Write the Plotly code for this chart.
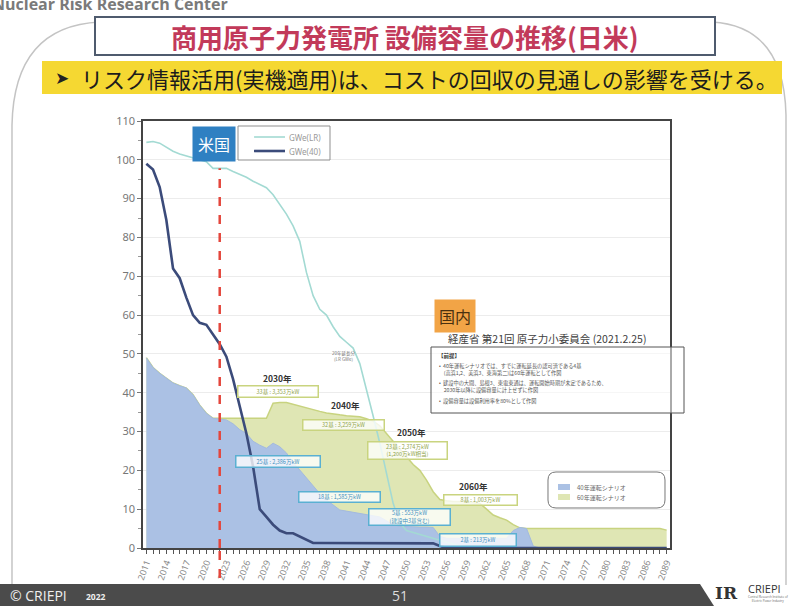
import plotly.graph_objects as go

# ---------------- data ----------------
# United States (GWe)
us_lr_years = [2011, 2012, 2013, 2014, 2015, 2016, 2017, 2018, 2019, 2020, 2021, 2022, 2023, 2024,
               2025, 2026, 2027, 2028, 2029, 2030, 2031, 2032, 2033, 2034, 2035, 2036, 2037, 2038,
               2039, 2040, 2041, 2042, 2043, 2044, 2045, 2046, 2047, 2048, 2049, 2050, 2051, 2052,
               2053, 2054, 2055, 2056, 2057, 2058, 2059, 2089]
us_lr_values = [104.5, 104.7, 104.3, 103.3, 102.2, 101.5, 101.0, 100.6, 100.2, 99.5, 97.8, 97.8, 97.8, 97.0,
                96.3, 95.5, 94.5, 93.6, 92.8, 91.0, 88.5, 86.0, 83.0, 79.0, 71.0, 65.0, 61.5, 60.0,
                57.0, 54.5, 53.0, 51.5, 47.5, 41.0, 34.0, 27.0, 19.0, 11.5, 6.5, 4.5, 4.0, 3.5,
                3.0, 2.5, 2.0, 1.5, 1.0, 0.5, 0.0, 0.0]

us_40_years = [2011, 2012, 2013, 2014, 2015, 2016, 2017, 2018, 2019, 2020, 2021, 2022, 2023, 2024,
               2025, 2026, 2027, 2028, 2029, 2030, 2031, 2032, 2033, 2034, 2035, 2036, 2037, 2045,
               2054, 2055, 2056, 2089]
us_40_values = [99.0, 97.5, 93.0, 84.5, 72.0, 69.5, 64.5, 60.0, 58.0, 57.5, 55.0, 52.5, 49.3, 43.5,
                36.5, 29.5, 21.0, 10.0, 8.0, 6.0, 4.5, 3.8, 3.8, 3.0, 2.0, 1.3, 1.3, 1.3,
                1.2, 0.5, 0.0, 0.0]

# Japan (GWe), one value per year 2011..2089
jp_years = list(range(2011, 2090))
jp_40yr = [49.0, 46.5, 45.0, 43.7, 42.5, 41.8, 41.2, 39.5, 36.8, 34.7,
           33.4, 33.2, 33.0, 32.0, 30.5, 29.5, 27.5, 26.5, 25.7, 27.0,
           26.1, 24.5, 22.0, 20.1, 18.0, 15.8, 14.0, 12.4, 11.0, 9.8,
           9.5, 9.2, 8.9, 8.6, 8.3, 8.0, 7.0, 6.0, 5.6, 5.5,
           5.5, 5.4, 5.4, 5.3, 3.0, 2.5, 2.5, 2.5, 2.5, 2.5,
           2.5, 2.5, 2.5, 2.5, 2.5, 4.5, 5.3, 5.0, 0.5, 0.0,
           0.0, 0.0, 0.0, 0.0, 0.0, 0.0, 0.0, 0.0, 0.0, 0.0,
           0.0, 0.0, 0.0, 0.0, 0.0, 0.0, 0.0, 0.0, 0.0]
jp_60yr = [49.0, 46.5, 45.0, 43.7, 42.5, 41.8, 41.2, 39.5, 36.8, 34.7,
           33.4, 33.4, 33.4, 33.4, 33.4, 33.4, 33.4, 33.4, 33.4, 37.3,
           37.5, 37.5, 37.0, 36.5, 36.0, 35.6, 35.2, 34.8, 34.5, 34.3,
           34.1, 34.0, 33.8, 33.3, 32.7, 31.5, 29.5, 27.5, 25.5, 23.5,
           21.5, 20.0, 17.5, 14.5, 12.5, 12.2, 12.0, 12.0, 12.0, 11.8,
           11.5, 10.0, 8.5, 7.8, 7.2, 6.0, 5.2, 5.0, 5.0, 5.0,
           5.0, 5.0, 5.0, 5.0, 5.0, 5.0, 5.0, 5.0, 5.0, 5.0,
           5.0, 5.0, 5.0, 5.0, 5.0, 5.0, 5.0, 5.0, 4.6]

us_reference_year = 2022
tick_years = list(range(2011, 2090))
tick_labels = [str(y) if (y - 2011) % 3 == 0 else "" for y in tick_years]
y_ticks = [0, 10, 20, 30, 40, 50, 60, 70, 80, 90, 100, 110]

# ---------------- geometry helpers ----------------
W, H = 790, 606
L, R, T, B = 143, 120, 121, 58
PW = W - L - R
PH = H - T - B
JP = "Noto Sans CJK JP"

C_BLUE_FILL, C_GREEN_FILL = "#abc1e4", "#dfe6b4"
C_LR, C_40 = "#a3dad3", "#3b4b7a"


def px(x):
    return (x - L) / PW


def py(y):
    return (H - B - y) / PH


def path(points, close=False):
    s = ""
    for i, p in enumerate(points):
        if p[0] == "Q":
            s += f" Q {px(p[1]):.5f},{py(p[2]):.5f} {px(p[3]):.5f},{py(p[4]):.5f}"
        else:
            s += (" M " if i == 0 else " L ") + f"{px(p[0]):.5f},{py(p[1]):.5f}"
    return s + (" Z" if close else "")


def rrect(x0, y0, x1, y1, r):
    return path([(x0 + r, y0), (x1 - r, y0), ("Q", x1, y0, x1, y0 + r), (x1, y1 - r),
                 ("Q", x1, y1, x1 - r, y1), (x0 + r, y1), ("Q", x0, y1, x0, y1 - r),
                 (x0, y0 + r), ("Q", x0, y0, x0 + r, y0)], close=True)


fig = go.Figure()
fig.add_trace(go.Scatter(x=jp_years, y=jp_60yr, mode="lines", name="60年運転シナリオ",
                         line=dict(color="#c8d37f", width=1.5), fill="tozeroy",
                         fillcolor=C_GREEN_FILL, showlegend=False))
fig.add_trace(go.Scatter(x=jp_years, y=jp_40yr, mode="lines", name="40年運転シナリオ",
                         line=dict(color="#a3bade", width=1), fill="tozeroy",
                         fillcolor=C_BLUE_FILL, showlegend=False))
fig.add_trace(go.Scatter(x=us_lr_years, y=us_lr_values, mode="lines", name="GWe(LR)",
                         line=dict(color=C_LR, width=1.6), showlegend=False))
fig.add_trace(go.Scatter(x=us_40_years, y=us_40_values, mode="lines", name="GWe(40)",
                         line=dict(color=C_40, width=2.6), showlegend=False))

ref_top = us_lr_values[us_lr_years.index(us_reference_year)]

shapes = []
# slide frame
shapes.append(dict(type="path", xref="paper", yref="paper", layer="below",
                   path=path([(12, 585), (12, 125), ("Q", 14, 26, 100, 22), (712, 22),
                              ("Q", 784, 26, 786, 115), (786, 585)]),
                   line=dict(color="#c4c4c4", width=1.5)))
# title box
shapes.append(dict(type="rect", xref="paper", yref="paper", x0=px(95), x1=px(715), y0=py(17), y1=py(55),
                   fillcolor="white", line=dict(color="#4f5b6e", width=2)))
# yellow banner
shapes.append(dict(type="rect", xref="paper", yref="paper", x0=px(42), x1=px(782), y0=py(61), y1=py(94),
                   fillcolor="#f5d832", line=dict(width=0)))
# footer band
shapes.append(dict(type="path", xref="paper", yref="paper",
                   path=path([(0, 584), (700, 584), (714, 606), (0, 606)], close=True),
                   fillcolor="#4b4b4b", line=dict(width=0)))
# US reference line
shapes.append(dict(type="line", xref="x", yref="y", x0=us_reference_year, x1=us_reference_year,
                   y0=0, y1=ref_top, line=dict(color="#e4463c", width=2.5, dash="dash")))
shapes.append(dict(type="line", xref="x", yref="paper", x0=us_reference_year, x1=us_reference_year,
                   y0=py(578), y1=0, line=dict(color="#e4463c", width=2.5, dash="dash")))
# US legend box and samples
shapes.append(dict(type="rect", xref="paper", yref="paper", x0=px(238), x1=px(330), y0=py(126), y1=py(160),
                   fillcolor="white", line=dict(color="#8f8f8f", width=1)))
shapes.append(dict(type="line", xref="paper", yref="paper", x0=px(254), x1=px(285), y0=py(137), y1=py(137),
                   line=dict(color=C_LR, width=1.6)))
shapes.append(dict(type="line", xref="paper", yref="paper", x0=px(254), x1=px(285), y0=py(151), y1=py(151),
                   line=dict(color=C_40, width=2.6)))
# premise box
shapes.append(dict(type="rect", xref="paper", yref="paper", x0=px(431), x1=px(684), y0=py(347), y1=py(413),
                   fillcolor="rgba(255,255,255,0.55)", line=dict(color="#555", width=1)))
# JP legend box and swatches
shapes.append(dict(type="path", xref="paper", yref="paper", path=rrect(548, 472, 665, 508, 8),
                   line=dict(color="#777", width=1)))
shapes.append(dict(type="rect", xref="paper", yref="paper", x0=px(558), x1=px(570), y0=py(484), y1=py(490),
                   fillcolor=C_BLUE_FILL, line=dict(width=0)))
shapes.append(dict(type="rect", xref="paper", yref="paper", x0=px(558), x1=px(570), y0=py(494), y1=py(500),
                   fillcolor=C_GREEN_FILL, line=dict(width=0)))

ann = []


def text(x, y, t, size, color="#333", xanchor="center", bold=False, family=JP, **kw):
    ann.append(dict(xref="paper", yref="paper", x=px(x), y=py(y), text=(f"<b>{t}</b>" if bold else t),
                    showarrow=False, xanchor=xanchor, yanchor="middle",
                    font=dict(size=size, color=color, family=family), **kw))


text(-10, 4, "Nuclear Risk Research Center", 16, "#7a7a7a", xanchor="left", bold=True, family="Open Sans")
text(405, 36, "商用原子力発電所 設備容量の推移(日米)", 26, "#c23a5a", bold=True)
text(62, 78, "➤", 17, "#222", family="DejaVu Sans")
text(79, 78, "リスク情報活用(実機適用)は、コストの回収の見通しの影響を受ける。", 22, "#1c1c1c", xanchor="left")
text(8, 595, "© CRIEPI", 14, "#f0f0f0", xanchor="left", family="Open Sans")
text(84, 596, "2022", 8.5, "#f0f0f0", xanchor="left", bold=True, family="Open Sans")
text(400, 595, "51", 14, "#dddddd", family="Open Sans")
text(726, 593, "IR", 17, "#333", bold=True, family="DejaVu Serif")
text(746, 588, "CRIEPI", 11, "#333", xanchor="left", family="Open Sans")
text(746, 599, "Central Research Institute of<br>Electric Power Industry", 3, "#666", xanchor="left", family="Open Sans")

# region tags
text(214, 144, "米国", 16, "white", bgcolor="#2f80c2", borderpad=5)
text(455, 316, "国内", 16, "#4a3110", bgcolor="#f2a446", borderpad=4)
text(446, 338, "経産省 第21回 原子力小委員会 (2021.2.25)", 10.5, "#3d3d3d", xanchor="left")

# US legend texts
text(287, 137, "GWe(LR)", 8, "#999", xanchor="left", family="Noto Sans")
text(287, 151, "GWe(40)", 8, "#999", xanchor="left", family="Noto Sans")

# JP legend texts
text(575, 487, "40年運転シナリオ", 6, "#666", xanchor="left")
text(575, 497, "60年運転シナリオ", 6, "#666", xanchor="left")

# premise notes
text(436, 356, "【前提】", 5.5, "#333", xanchor="left", bold=True)
text(437, 369, "•  40年運転シナリオでは、すでに運転延長の認可済である4基<br>    (高浜1,2、美浜3、東海第二)は60年運転として作図",
     5.2, "#555", xanchor="left", align="left")
text(437, 386, "•  建設中の大間、島根3、東電東通は、運転開始時期が未定であるため、<br>    2030年以降に設備容量に計上せずに作図",
     5.2, "#555", xanchor="left", align="left")
text(437, 401, "•  設備容量は設備利用率を80%として作図", 5.2, "#555", xanchor="left", align="left")

# small note near US LR curve
text(343, 356, "20年延長分<br>(LR GWe)", 4.5, "#777")


def dlabel(x, y, t, size=8.5, color="#333"):
    ann.append(dict(xref="x", yref="y", x=x, y=y, text=f"<b>{t}</b>", showarrow=False,
                    font=dict(size=size, color=color, family=JP)))


def dbox(x, y, t, w, h, border, color):
    ann.append(dict(xref="x", yref="y", x=x, y=y, text=t, showarrow=False, width=w, height=h,
                    bordercolor=border, borderwidth=1.5, bgcolor="rgba(255,255,255,0.78)",
                    borderpad=0, font=dict(size=5.5, color=color, family=JP)))


dlabel(2030.7, 43.8, "2030年")
dlabel(2040.8, 36.8, "2040年")
dlabel(2050.7, 29.9, "2050年")
dlabel(2060.0, 16.0, "2060年")

G_B, G_T = "#c9d47f", "#8fa44a"
B_B, B_T = "#5ab0d2", "#3d8fbf"
dbox(2030.7, 40.2, "33基 : 3,353万kW", 79, 10, G_B, G_T)
dbox(2040.6, 31.7, "32基 : 3,259万kW", 80, 9, G_B, G_T)
dbox(2050.1, 25.0, "23基 : 2,374万kW<br>(1,200万kW相当)", 78, 16, G_B, G_T)
dbox(2061.1, 12.4, "8基 : 1,003万kW", 72, 9, G_B, G_T)
dbox(2030.7, 22.4, "25基 : 2,386万kW", 83, 10, B_B, B_T)
dbox(2039.9, 13.1, "18基 : 1,585万kW", 80, 9, B_B, B_T)
dbox(2050.4, 8.0, "5基 : 553万kW<br>(建設中3基含む)", 80, 15, B_B, B_T)
dbox(2060.7, 2.1, "2基 : 213万kW", 75, 11, B_B, B_T)

fig.update_layout(
    width=W, height=H,
    margin=dict(l=L, r=R, t=T, b=B, pad=0),
    paper_bgcolor="white", plot_bgcolor="white",
    font=dict(family="Noto Sans", color="#777"),
    showlegend=False,
    shapes=shapes,
    annotations=ann,
)
fig.update_xaxes(range=[2010.5, 2089.5], tickmode="array", tickvals=tick_years, ticktext=tick_labels,
                 tickangle=-70, ticks="outside", ticklen=4, tickcolor="#555",
                 tickfont=dict(size=9, color="#888"), showgrid=False, showline=True,
                 linecolor="#444", linewidth=1.5, mirror=True, zeroline=False)
fig.update_yaxes(range=[0, 110], tickmode="array", tickvals=y_ticks, ticks="outside", ticklen=4,
                 tickcolor="#777", tickfont=dict(size=11, color="#777"), showgrid=True,
                 gridcolor="#ececec", showline=True, linecolor="#444", linewidth=1.5,
                 mirror=True, zeroline=False,
                 minor=dict(dtick=5, ticks="outside", ticklen=3, tickcolor="#999", showgrid=False))

fig.write_html("out.html", config={"displayModeBar": False},
               post_script="document.body.style.margin='0px';document.body.style.overflow='hidden';")
